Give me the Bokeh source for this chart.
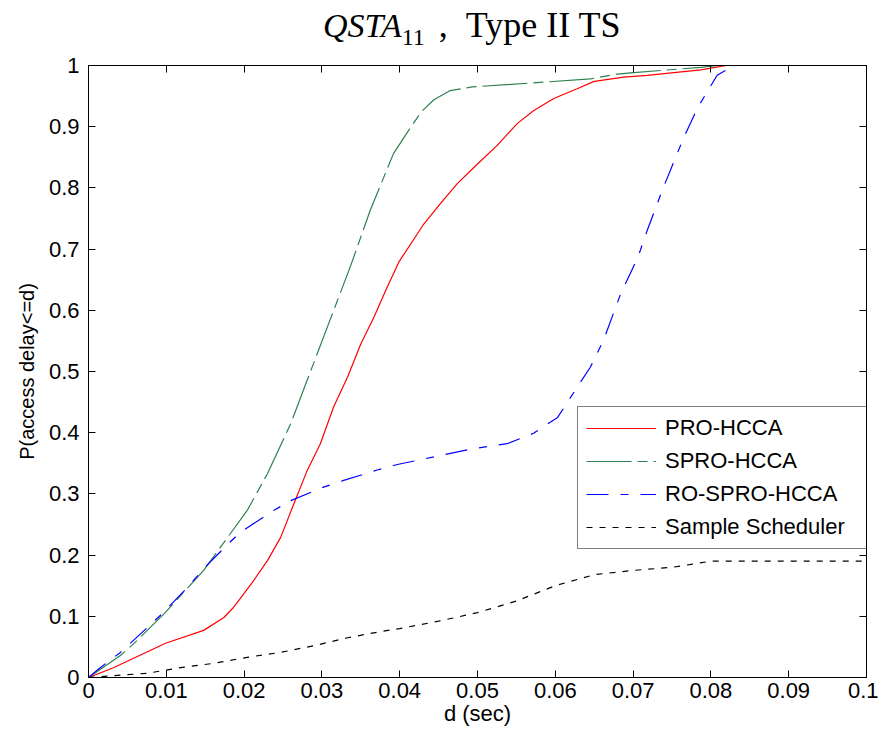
from bokeh.plotting import figure
from bokeh.models import (Range1d, LinearAxis, FixedTicker, CustomJSTickFormatter, Div)
from bokeh.layouts import column
from bokeh.embed import file_html
from bokeh.resources import INLINE

# ---- data ----
pro_x = [0, 0.0032, 0.0099, 0.0148, 0.0174, 0.0186, 0.0195, 0.0212, 0.023, 0.0247, 0.0264,
         0.0281, 0.0298, 0.0315, 0.0333, 0.035, 0.0367, 0.0384, 0.0399, 0.0431, 0.0452,
         0.0474, 0.05, 0.0525, 0.0551, 0.0572, 0.0598, 0.0628, 0.065, 0.0688, 0.0718,
         0.0787, 0.082, 0.1]
pro_y = [0, 0.016, 0.056, 0.077, 0.098, 0.114, 0.129, 0.158, 0.191, 0.229, 0.284,
         0.338, 0.382, 0.442, 0.491, 0.545, 0.589, 0.638, 0.679, 0.741, 0.774,
         0.807, 0.839, 0.869, 0.905, 0.926, 0.946, 0.962, 0.974, 0.981, 0.984,
         0.993, 1.0, 1.0]

spro_x = [0, 0.0041, 0.0058, 0.0097, 0.0148, 0.0204, 0.023, 0.026, 0.0285, 0.0311, 0.0337,
          0.0362, 0.0392, 0.0414, 0.0429, 0.0444, 0.0465, 0.0493, 0.0564, 0.0645, 0.068,
          0.0697, 0.0787, 0.081, 0.1]
spro_y = [0, 0.036, 0.055, 0.104, 0.175, 0.273, 0.333, 0.415, 0.499, 0.586, 0.673,
          0.763, 0.856, 0.899, 0.926, 0.944, 0.959, 0.965, 0.971, 0.978, 0.986,
          0.988, 0.997, 1.0, 1.0]

ro_x = [0, 0.0015, 0.0041, 0.0076, 0.0096, 0.0127, 0.0148, 0.018, 0.0195, 0.0238,
        0.026, 0.0302, 0.0328, 0.0371, 0.0397, 0.0495, 0.0538, 0.0572, 0.0603,
        0.0628, 0.0645, 0.0662, 0.0684, 0.0706, 0.0718, 0.0739, 0.0765, 0.0783,
        0.0808, 0.083, 0.1]
ro_y = [0, 0.016, 0.041, 0.082, 0.106, 0.147, 0.178, 0.219, 0.237, 0.273,
        0.289, 0.311, 0.322, 0.339, 0.348, 0.374, 0.382, 0.399, 0.425,
        0.474, 0.507, 0.551, 0.627, 0.686, 0.730, 0.801, 0.882, 0.931,
        0.984, 1.0, 1.0]

ss_x = [0, 0.0076, 0.0118, 0.016, 0.0204, 0.0247, 0.029, 0.0333, 0.0371, 0.04,
        0.045, 0.05, 0.055, 0.06, 0.065, 0.07, 0.075, 0.08, 0.09, 0.1]
ss_y = [0, 0.007, 0.016, 0.023, 0.033, 0.041, 0.052, 0.065, 0.074, 0.080,
        0.092, 0.106, 0.125, 0.150, 0.168, 0.175, 0.180, 0.190, 0.190, 0.190]

series_names = ["PRO-HCCA", "SPRO-HCCA", "RO-SPRO-HCCA", "Sample Scheduler"]
x_ticks = [0, 0.01, 0.02, 0.03, 0.04, 0.05, 0.06, 0.07, 0.08, 0.09, 0.1]
y_ticks = [0, 0.1, 0.2, 0.3, 0.4, 0.5, 0.6, 0.7, 0.8, 0.9, 1.0]

FONT = "Liberation Sans"
SERIF = "Liberation Serif"

title = Div(
    text=('<i>QSTA</i>'
          '<span style="font-size:24px;position:relative;top:8px;">11</span>'
          '<span style="margin-left:14px;font-size:36px;">,</span>'
          '<span style="margin-left:18px;font-size:36px;">Type II TS</span>'),
    width=878, height=35,
    styles={"font-family": SERIF, "font-size": "34px", "line-height": "24px",
            "padding-left": "318px", "padding-top": "8px", "color": "black",
            "white-space": "nowrap", "box-sizing": "border-box", "overflow": "visible"})

p = figure(width=878, height=689, output_backend="svg", toolbar_location=None,
           x_range=Range1d(0, 0.1), y_range=Range1d(0, 1),
           min_border_left=88, min_border_right=12, min_border_top=20, min_border_bottom=57)
p.background_fill_color = "white"
p.border_fill_color = "white"
p.outline_line_color = "black"
p.outline_line_width = 1
p.grid.visible = False

fmt = CustomJSTickFormatter(code="return String(Math.round(tick*1000)/1000);")

for ax, ticks in ((p.xaxis[0], x_ticks), (p.yaxis[0], y_ticks)):
    ax.ticker = FixedTicker(ticks=ticks)
    ax.formatter = fmt
    ax.major_tick_in = 7
    ax.major_tick_out = 0
    ax.minor_tick_line_color = None
    ax.axis_line_color = "black"
    ax.major_tick_line_color = "black"
    ax.major_label_text_font = FONT
    ax.major_label_text_font_size = "22px"
    ax.major_label_text_color = "black"
    ax.axis_label_text_font = FONT
    ax.axis_label_text_font_style = "normal"
    ax.axis_label_text_color = "black"

p.xaxis.axis_label = "d (sec)"
p.yaxis.axis_label = "P(access delay<=d)"
p.xaxis.axis_label_text_font_size = "22px"
p.yaxis.axis_label_text_font_size = "20px"
p.xaxis.major_label_standoff = 5
p.yaxis.major_label_standoff = 9
p.xaxis.axis_label_standoff = 0
p.yaxis.axis_label_standoff = 8

for loc, ticks in (("above", x_ticks), ("right", y_ticks)):
    ax = LinearAxis(ticker=FixedTicker(ticks=ticks), major_label_text_color=None,
                    major_label_text_font_size="6px", major_tick_in=7, major_tick_out=0,
                    minor_tick_line_color=None, major_label_standoff=0,
                    axis_line_color="black", major_tick_line_color="black")
    p.add_layout(ax, loc)

p.line(pro_x, pro_y, line_color="#ff0000", line_width=1.2, legend_label=series_names[0])
p.line(spro_x, spro_y, line_color="#2e8050", line_width=1.2, line_dash="45 6 10 6",
       legend_label=series_names[1])
p.line(ro_x, ro_y, line_color="#0000ff", line_width=1.2, line_dash="22 12 8 12",
       legend_label=series_names[2])
p.line(ss_x, ss_y, line_color="black", line_width=1.2, line_dash="6 7",
       legend_label=series_names[3])

lg = p.legend[0]
lg.location = (489, 128)
lg.label_text_font = FONT
lg.label_text_font_size = "22px"
lg.label_text_color = "black"
lg.glyph_width = 70
lg.glyph_height = 24
lg.label_height = 24
lg.label_width = 207
lg.label_standoff = 9
lg.spacing = 7
lg.padding = 8
lg.margin = 0
lg.border_line_color = "black"
lg.border_line_width = 1
lg.background_fill_color = "white"
lg.background_fill_alpha = 1

layout = column(title, p, spacing=0)
open("out.html", "w").write(file_html(layout, INLINE))
